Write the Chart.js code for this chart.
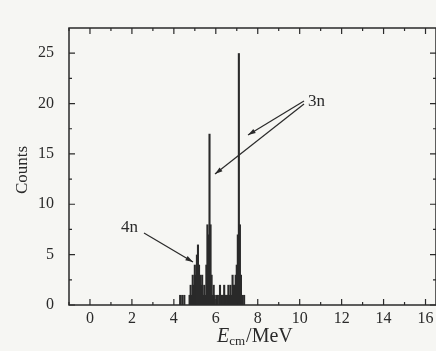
<!DOCTYPE html>
<html>
<head>
<meta charset="utf-8">
<script src="https://cdn.jsdelivr.net/npm/chart.js@4.4.1/dist/chart.umd.min.js"></script>
<style>
  html, body { margin: 0; padding: 0; background: #f6f6f3; }
  #wrap { width: 436px; height: 351px; }
</style>
</head>
<body>
<div id="wrap"><canvas id="chart" width="436" height="351"></canvas></div>
<script>
// histogram bin centres (MeV) and counts
const energies = [4.30, 4.35, 4.40, 4.45, 4.50, 4.55, 4.60, 4.65, 4.70, 4.75,
                  4.80, 4.85, 4.90, 4.95, 5.00, 5.05, 5.10, 5.15, 5.20, 5.25,
                  5.30, 5.35, 5.40, 5.45, 5.50, 5.55, 5.60, 5.65, 5.70, 5.75,
                  5.80, 5.85, 5.90, 5.95, 6.00, 6.05, 6.10, 6.15, 6.20, 6.25,
                  6.30, 6.35, 6.40, 6.45, 6.50, 6.55, 6.60, 6.65, 6.70, 6.75,
                  6.80, 6.85, 6.90, 6.95, 7.00, 7.05, 7.10, 7.15, 7.20, 7.25,
                  7.30, 7.35];
const counts = [1, 0, 1, 0, 1, 0, 0, 0, 0, 1,
                2, 1, 3, 2, 4, 3, 5, 6, 4, 3,
                2, 3, 1, 2, 1, 4, 8, 7, 17, 8,
                3, 1, 2, 1, 0, 1, 1, 0, 2, 1,
                1, 1, 2, 1, 1, 1, 2, 1, 2, 1,
                3, 2, 2, 3, 4, 7, 25, 8, 3, 1,
                0, 1];

const xTicks = [0, 2, 4, 6, 8, 10, 12, 14, 16];
const xMinorTicks = [-1, 1, 3, 5, 7, 9, 11, 13, 15];
const yTicks = [0, 5, 10, 15, 20, 25];
const yMinorTicks = [2.5, 7.5, 12.5, 17.5, 22.5];

const ink = '#2a2a2a';
const serif = '"Liberation Serif", "DejaVu Serif", serif';

const framePlugin = {
  id: 'frame',
  beforeDraw(chart) {
    const c = chart.ctx;
    c.save();
    c.fillStyle = '#f6f6f3';
    c.fillRect(0, 0, chart.width, chart.height);
    c.restore();
  },
  afterDraw(chart) {
    const c = chart.ctx;
    const a = chart.chartArea;
    const xs = chart.scales.x, ys = chart.scales.y;
    c.save();
    c.strokeStyle = ink;
    c.lineWidth = 1.5;
    c.strokeRect(a.left, a.top, a.right - a.left, a.bottom - a.top);

    // inward ticks on all four sides
    c.lineWidth = 1.2;
    c.beginPath();
    xTicks.forEach(v => {
      const p = xs.getPixelForValue(v);
      c.moveTo(p, a.bottom); c.lineTo(p, a.bottom - 6);
      c.moveTo(p, a.top); c.lineTo(p, a.top + 6);
    });
    xMinorTicks.forEach(v => {
      const p = xs.getPixelForValue(v);
      c.moveTo(p, a.bottom); c.lineTo(p, a.bottom - 3);
      c.moveTo(p, a.top); c.lineTo(p, a.top + 3);
    });
    yTicks.forEach(v => {
      const p = ys.getPixelForValue(v);
      c.moveTo(a.left, p); c.lineTo(a.left + 6, p);
      c.moveTo(a.right, p); c.lineTo(a.right - 6, p);
    });
    yMinorTicks.forEach(v => {
      const p = ys.getPixelForValue(v);
      c.moveTo(a.left, p); c.lineTo(a.left + 3, p);
      c.moveTo(a.right, p); c.lineTo(a.right - 3, p);
    });
    c.stroke();

    // axis titles
    c.fillStyle = ink;
    c.textBaseline = 'middle';
    c.save();
    c.translate(23, 170);
    c.rotate(-Math.PI / 2);
    c.textAlign = 'center';
    c.font = '17px ' + serif;
    c.fillText('Counts', 0, 0);
    c.restore();

    let x = 217;
    const y = 337;
    c.textAlign = 'left';
    c.font = 'italic 20px ' + serif;
    c.fillText('E', x, y);
    x += c.measureText('E').width;
    c.font = '13px ' + serif;
    c.fillText('cm', x, y + 5);
    x += c.measureText('cm').width + 1;
    c.font = '20px ' + serif;
    c.fillText('/MeV', x, y);

    // annotations
    c.font = '17px ' + serif;
    c.fillText('3n', 308, 102);
    c.fillText('4n', 121, 228);
    c.lineWidth = 1.2;
    arrow(c, 304, 101, 248, 135);
    arrow(c, 304, 104, 215, 174);
    arrow(c, 144, 233, 193, 262);
    c.restore();
  }
};

function arrow(c, x1, y1, x2, y2) {
  const ang = Math.atan2(y2 - y1, x2 - x1);
  c.beginPath();
  c.moveTo(x1, y1);
  c.lineTo(x2, y2);
  c.stroke();
  c.beginPath();
  c.moveTo(x2, y2);
  c.lineTo(x2 - 8 * Math.cos(ang - 0.3), y2 - 8 * Math.sin(ang - 0.3));
  c.lineTo(x2 - 8 * Math.cos(ang + 0.3), y2 - 8 * Math.sin(ang + 0.3));
  c.closePath();
  c.fill();
}

const ctx = document.getElementById('chart').getContext('2d');
new Chart(ctx, {
  type: 'bar',
  data: {
    datasets: [{
      data: energies.map((e, i) => ({ x: e, y: counts[i] })),
      backgroundColor: ink,
      borderWidth: 0,
      barPercentage: 2,
      categoryPercentage: 1
    }]
  },
  options: {
    responsive: false,
    animation: false,
    layout: { padding: { top: 28, right: 0, left: 0, bottom: 0 } },
    plugins: { legend: { display: false }, tooltip: { enabled: false } },
    scales: {
      x: {
        type: 'linear',
        offset: false,
        min: -1,
        max: 16.5,
        afterBuildTicks: s => { s.ticks = xTicks.map(v => ({ value: v })); },
        afterFit: s => { s.height = 46; s.paddingRight = 0; },
        grid: { display: false, drawTicks: false, offset: false },
        border: { display: false },
        ticks: { color: ink, padding: 4, font: { family: serif, size: 16 } }
      },
      y: {
        min: 0,
        max: 27.5,
        afterBuildTicks: s => { s.ticks = yTicks.map(v => ({ value: v })); },
        afterFit: s => { s.width = 69; },
        grid: { display: false, drawTicks: false },
        border: { display: false },
        ticks: { color: ink, padding: 15, font: { family: serif, size: 16 } }
      }
    }
  },
  plugins: [framePlugin]
});
</script>
</body>
</html>
